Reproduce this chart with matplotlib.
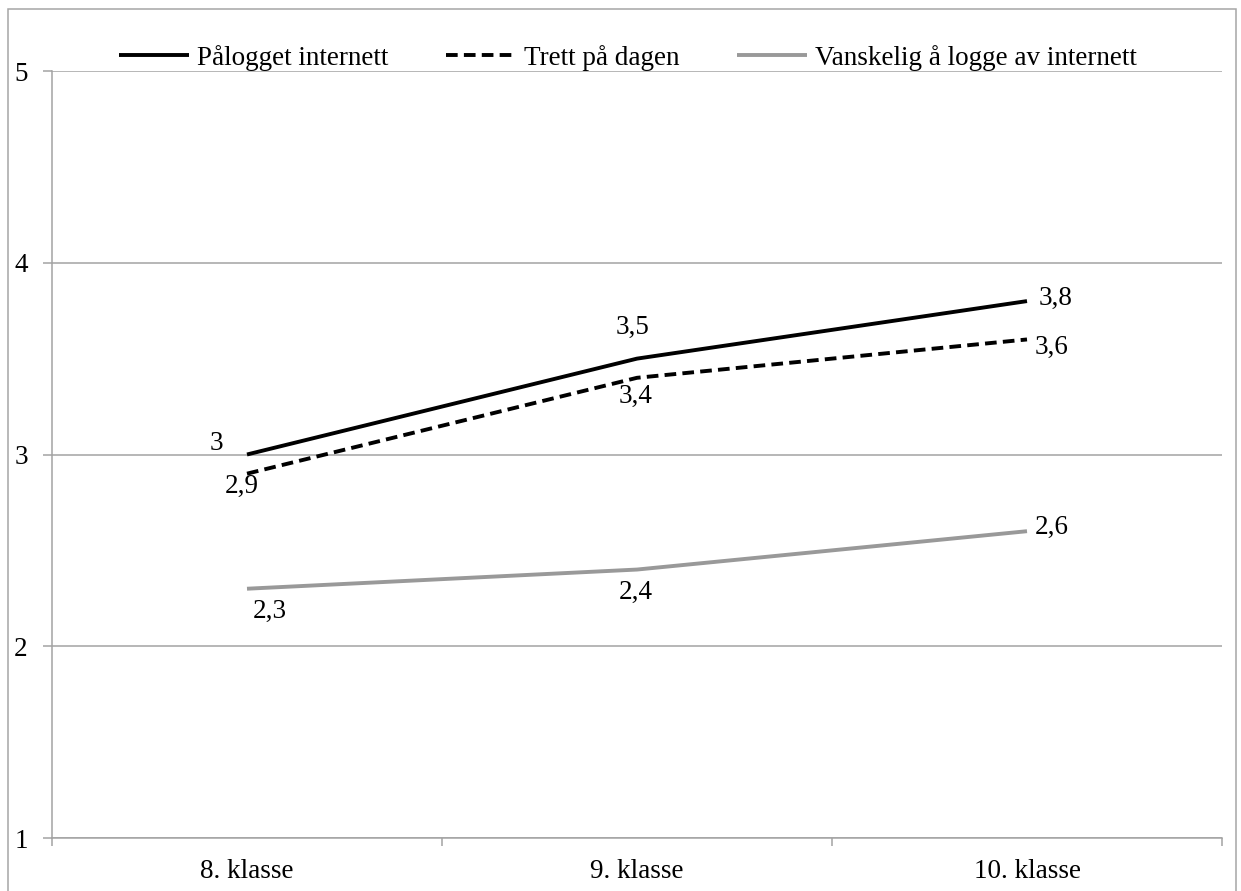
import matplotlib
matplotlib.use("Agg")
import matplotlib.pyplot as plt
from matplotlib.patches import Rectangle

categories = ["8. klasse", "9. klasse", "10. klasse"]
series_names = ["Pålogget internett", "Trett på dagen", "Vanskelig å logge av internett"]
palogget = [3.0, 3.5, 3.8]
trett = [2.9, 3.4, 3.6]
vanskelig = [2.3, 2.4, 2.6]
value_labels = {
    "palogget": ["3", "3,5", "3,8"],
    "trett": ["2,9", "3,4", "3,6"],
    "vanskelig": ["2,3", "2,4", "2,6"],
}
yticks = [1, 2, 3, 4, 5]

plt.rcParams["font.family"] = ["Liberation Serif", "DejaVu Serif"]
FS = 19.5

fig = plt.figure(figsize=(12.41, 8.91), dpi=100)
ax = fig.add_axes([52 / 1241, 1 - 838 / 891, (1222 - 52) / 1241, (838 - 71) / 891])

grid_c = "#a3a3a3"
x = list(range(len(categories)))

l1, = ax.plot(x, palogget, color="black", lw=2.8, solid_capstyle="butt", zorder=4)
l2, = ax.plot(x, trett, color="black", lw=2.8, dashes=(3, 1.6), zorder=4)
l3, = ax.plot(x, vanskelig, color="#999999", lw=2.8, solid_capstyle="butt", zorder=3)

# data labels (pixel offsets from each point)
offsets = {
    "palogget": [(-31, 11), (-4, 31), (29, 3)],
    "trett": [(-5, -13), (-1, -19), (25, -8)],
    "vanskelig": [(23, -23), (-1, -23), (25, 4)],
}
for key, vals in (("palogget", palogget), ("trett", trett), ("vanskelig", vanskelig)):
    for i, v in enumerate(vals):
        ax.annotate(value_labels[key][i], (x[i], v), xytext=offsets[key][i],
                    textcoords="offset pixels", ha="center", va="center",
                    fontsize=FS, color="black", zorder=5)

ax.set_xlim(-0.5, 2.5)
ax.set_ylim(1, 5)
ax.set_yticks(yticks)
ax.set_yticklabels([str(t) for t in yticks])
ax.set_xticks(x)
ax.set_xticklabels(categories)
ax.set_xticks([-0.5, 0.5, 1.5, 2.5], minor=True)

ax.tick_params(axis="x", which="major", length=0, pad=15, labelsize=FS)
ax.tick_params(axis="x", which="minor", length=6, width=1.1, color=grid_c, direction="out")
ax.tick_params(axis="y", length=6.5, width=1.1, color=grid_c, pad=11, labelsize=FS)
for lab in ax.get_yticklabels():
    lab.set_horizontalalignment("right")

ax.yaxis.grid(True, color=grid_c, lw=1.1)
ax.set_axisbelow(True)
for side in ("top", "right"):
    ax.spines[side].set_visible(False)
for side in ("left", "bottom"):
    ax.spines[side].set_color(grid_c)
    ax.spines[side].set_linewidth(1.1)

fig.legend([l1, l2, l3], series_names, loc="center", ncol=3,
           bbox_to_anchor=(628 / 1241, 1 - 58 / 891), frameon=False,
           fontsize=FS, handlelength=2.6, handletextpad=0.3, columnspacing=2.1,
           borderpad=0, borderaxespad=0)

fig.patches.append(Rectangle((8 / 1241, -0.1), (1236 - 8) / 1241, 1.1 - 9 / 891,
                             transform=fig.transFigure, fill=False,
                             edgecolor="#a6a6a6", lw=1.1, zorder=10))

fig.savefig("out.png", dpi=100, facecolor="white")
